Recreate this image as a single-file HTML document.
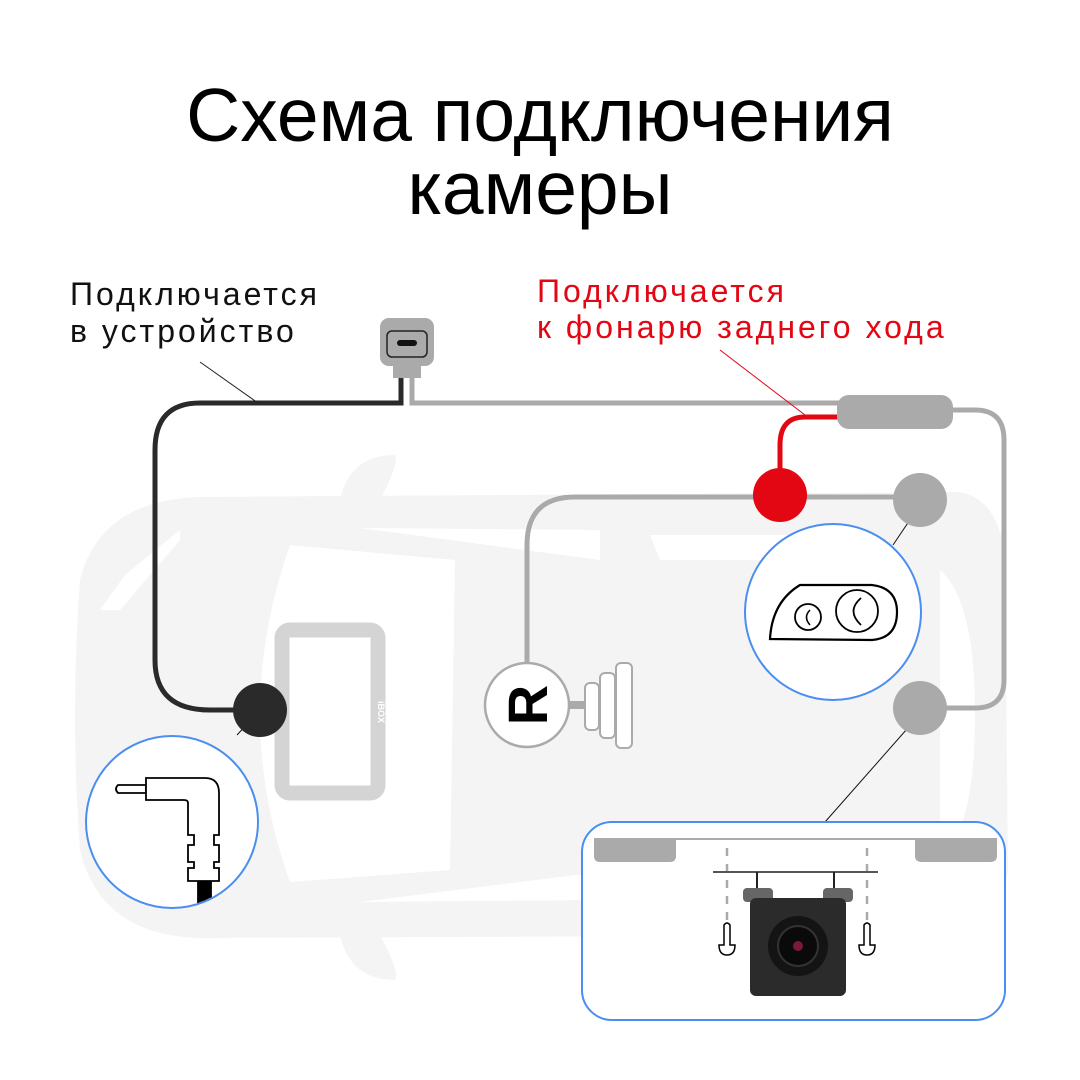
<!DOCTYPE html>
<html><head><meta charset="utf-8"><style>
html,body{margin:0;padding:0;background:#fff}
svg{display:block}
text{font-family:"Liberation Sans",sans-serif}
</style></head><body>
<svg width="1080" height="1080" viewBox="0 0 1080 1080" xmlns="http://www.w3.org/2000/svg">
<rect width="1080" height="1080" fill="#fff"/>
<text x="540" y="141" font-size="75" text-anchor="middle" fill="#000">Схема подключения</text>
<text x="540" y="214" font-size="75" text-anchor="middle" fill="#000">камеры</text>
<text x="70" y="305" font-size="32" fill="#111" letter-spacing="3">Подключается</text>
<text x="70" y="342" font-size="32" fill="#111" letter-spacing="3">в устройство</text>
<text x="537" y="302" font-size="32" fill="#e30613" letter-spacing="3">Подключается</text>
<text x="537" y="338" font-size="32" fill="#e30613" letter-spacing="3">к фонарю заднего хода</text>

<!-- car silhouette -->
<g fill="#f4f4f4">
<path d="M200 497 L960 492 Q1000 500 1005 560 L1008 870 Q1000 930 960 935 L200 938 Q100 935 80 850 Q70 715 80 580 Q100 500 200 497Z"/>
<path d="M340 500 Q350 455 395 455 Q400 462 380 500Z"/>
<path d="M340 935 Q350 980 395 980 Q400 972 380 935Z"/>
</g>
<g fill="#fff">
<path d="M290 545 L455 560 L450 870 L290 882 Q230 715 290 545Z"/>
<path d="M180 530 L125 575 L100 610 L120 610 L180 540Z"/>
<path d="M360 528 L600 530 L600 560 Z"/>
<path d="M360 902 L600 900 L600 872 Z"/>
<path d="M650 535 L800 535 L790 560 L660 560Z"/>
<path d="M650 870 L800 870 L790 895 L660 895Z"/>
<path d="M940 570 Q975 600 975 715 Q975 830 940 860 Z"/>
</g>

<!-- device -->
<rect x="282" y="630" width="96" height="163" rx="8" fill="#fff" stroke="#d4d4d4" stroke-width="15"/>
<text x="378" y="712" font-size="9" fill="#fff" font-weight="bold" transform="rotate(90 378 712)" text-anchor="middle">iBOX</text>

<!-- cables -->
<path d="M401 372 V403 H200 Q155 403 155 450 V660 Q155 710 210 710 H250" fill="none" stroke="#2a2a2a" stroke-width="5"/>
<path d="M412 372 V403 H845" fill="none" stroke="#aaa" stroke-width="5"/>
<path d="M950 410 H975 Q1004 410 1004 440 V680 Q1004 708 975 708 H920" fill="none" stroke="#aaa" stroke-width="5"/>
<path d="M840 417 H805 Q780 417 780 445 V495" fill="none" stroke="#e30613" stroke-width="5"/>
<path d="M920 497 H575 Q527 497 527 545 V665" fill="none" stroke="#aaa" stroke-width="5"/>
<rect x="837" y="395" width="116" height="34" rx="12" fill="#aaa"/>

<!-- connector -->
<rect x="393" y="362" width="28" height="16" fill="#aaa"/>
<rect x="380" y="318" width="54" height="48" rx="9" fill="#aaa"/>
<rect x="387" y="331" width="40" height="26" rx="5" fill="none" stroke="#222" stroke-width="1.5"/>
<rect x="397" y="340" width="20" height="6" rx="3" fill="#111"/>

<!-- leader lines -->
<line x1="200" y1="362" x2="258" y2="403" stroke="#222" stroke-width="1"/>
<line x1="720" y1="350" x2="805" y2="415" stroke="#e30613" stroke-width="1"/>
<line x1="237" y1="735" x2="260" y2="710" stroke="#111" stroke-width="1"/>
<line x1="893" y1="545" x2="922" y2="502" stroke="#111" stroke-width="1"/>
<line x1="825" y1="822" x2="922" y2="712" stroke="#111" stroke-width="1"/>

<!-- dots -->
<circle cx="260" cy="710" r="27" fill="#2a2a2a"/>
<circle cx="780" cy="495" r="27" fill="#e30613"/>
<circle cx="920" cy="500" r="27" fill="#aaa"/>
<circle cx="920" cy="708" r="27" fill="#aaa"/>

<!-- R and pedal -->
<rect x="565" y="701" width="22" height="8" fill="#aaa"/>
<circle cx="527" cy="705" r="42" fill="#fff" stroke="#aaa" stroke-width="2.5"/>
<text x="0" y="0" font-size="56" font-weight="bold" fill="#000" transform="translate(547 705) rotate(-90)" text-anchor="middle">R</text>
<rect x="585" y="683" width="14" height="47" rx="5" fill="#fff" stroke="#aaa" stroke-width="2"/>
<rect x="600" y="673" width="15" height="65" rx="5" fill="#fff" stroke="#aaa" stroke-width="2"/>
<rect x="616" y="663" width="16" height="85" rx="5" fill="#fff" stroke="#aaa" stroke-width="2"/>

<!-- headlight circle -->
<circle cx="833" cy="612" r="88" fill="#fff" stroke="#4a8ef0" stroke-width="2"/>
<path d="M770 639 Q772 602 800 585 L872 585 Q897 588 897 612 Q897 638 872 640 Z" fill="none" stroke="#000" stroke-width="2.2"/>
<circle cx="808" cy="617" r="13" fill="none" stroke="#000" stroke-width="1.8"/>
<path d="M810 610 Q803 617 810 625" fill="none" stroke="#000" stroke-width="1.5"/>
<circle cx="857" cy="611" r="21" fill="none" stroke="#000" stroke-width="1.8"/>
<path d="M861 598 Q846 611 861 625" fill="none" stroke="#000" stroke-width="1.8"/>

<!-- plug circle -->
<circle cx="172" cy="822" r="86" fill="#fff" stroke="#4a8ef0" stroke-width="2"/>
<clipPath id="pc"><circle cx="172" cy="822" r="85"/></clipPath>
<g clip-path="url(#pc)" stroke="#000" stroke-width="1.8" fill="#fff">
<rect x="198" y="862" width="13" height="50" fill="#000"/>
<path d="M118 785 H146 V793 H118 Q114 789 118 785Z"/>
<path d="M146 778 H205 Q219 778 219 793 V835 H214 V845 H219 V862 H214 V868 H219 V881 H188 V868 H194 V862 H188 V845 H194 V835 H188 V803 Q188 800 184 800 H146 Z"/>
</g>

<!-- camera box -->
<rect x="582" y="822" width="423" height="198" rx="30" fill="#fff" stroke="#4a8ef0" stroke-width="2"/>
<path d="M594 838 H997 V856 Q997 862 990 862 H922 Q915 862 915 856 V840 H676 V856 Q676 862 670 862 H600 Q594 862 594 856Z" fill="#aaa"/>
<line x1="727" y1="848" x2="727" y2="920" stroke="#aaa" stroke-width="2.5" stroke-dasharray="8 8"/>
<line x1="867" y1="848" x2="867" y2="920" stroke="#aaa" stroke-width="2.5" stroke-dasharray="8 8"/>
<line x1="713" y1="872" x2="878" y2="872" stroke="#555" stroke-width="2"/>
<path d="M757 872 V890 M834 872 V890" stroke="#222" stroke-width="2"/>
<rect x="743" y="888" width="30" height="14" rx="4" fill="#666"/>
<rect x="823" y="888" width="30" height="14" rx="4" fill="#666"/>
<rect x="750" y="898" width="96" height="98" rx="6" fill="#2b2b2b"/>
<circle cx="798" cy="946" r="30" fill="#141414"/>
<circle cx="798" cy="946" r="20" fill="#0a0a0a" stroke="#333" stroke-width="2"/>
<circle cx="798" cy="946" r="5" fill="#7a1a3a"/>
<g fill="#fff" stroke="#000" stroke-width="1.5">
<path d="M724 945 V925 Q727 921 730 925 V945 H735 Q735 955 727 955 Q719 955 719 945Z"/>
<path d="M864 945 V925 Q867 921 870 925 V945 H875 Q875 955 867 955 Q859 955 859 945Z"/>
</g>
</svg>
</body></html>
